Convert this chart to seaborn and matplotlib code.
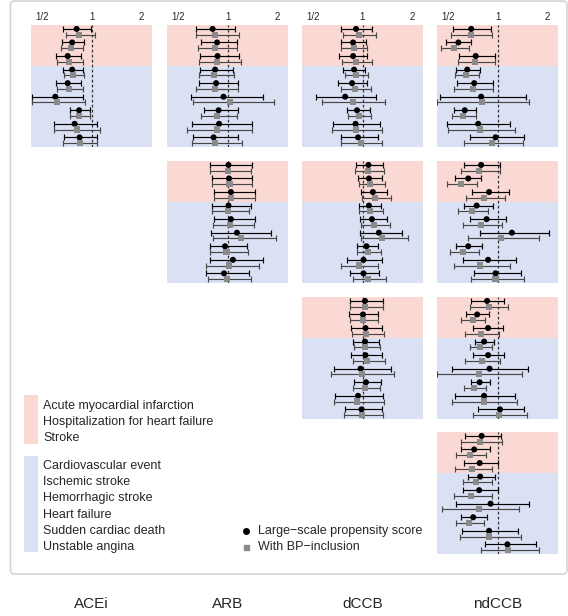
import numpy as np
import pandas as pd
import matplotlib
matplotlib.use('Agg')
import matplotlib.pyplot as plt
import seaborn as sns
from matplotlib.patches import Rectangle, FancyBboxPatch

# Outcomes (top 3 = pink group, last 6 = blue group)
outcomes_pink = ['Acute myocardial infarction', 'Hospitalization for heart failure', 'Stroke']
outcomes_blue = ['Cardiovascular event', 'Ischemic stroke', 'Hemorrhagic stroke',
                 'Heart failure', 'Sudden cardiac death', 'Unstable angina']
drugs = ['ACEi', 'ARB', 'dCCB', 'ndCCB']

# log2 hazard ratio: (estimate, lower, upper) per outcome
# ps = large-scale propensity score, bp = with BP-inclusion
r1_acei_ps = [(-0.30, -0.57, -0.02), (-0.39, -0.60, -0.15), (-0.48, -0.71, -0.22), (-0.39, -0.57, -0.17),
              (-0.48, -0.72, -0.21), (-0.73, -1.20, -0.18), (-0.25, -0.43, -0.03), (-0.34, -0.75, 0.12),
              (-0.24, -0.55, 0.11)]
r1_acei_bp = [(-0.25, -0.51, 0.07), (-0.41, -0.62, -0.17), (-0.45, -0.70, -0.18), (-0.37, -0.55, -0.15),
              (-0.45, -0.70, -0.17), (-0.69, -1.20, -0.13), (-0.25, -0.44, -0.03), (-0.29, -0.75, 0.18),
              (-0.24, -0.57, 0.11)]

r1_arb_ps = [(-0.30, -0.64, 0.15), (-0.21, -0.53, 0.20), (-0.20, -0.55, 0.24), (-0.25, -0.55, 0.12),
             (-0.23, -0.58, 0.21), (-0.08, -0.73, 0.71), (-0.18, -0.48, 0.21), (-0.17, -0.71, 0.49),
             (-0.28, -0.69, 0.21)]
r1_arb_bp = [(-0.26, -0.64, 0.23), (-0.25, -0.59, 0.19), (-0.21, -0.57, 0.27), (-0.27, -0.58, 0.13),
             (-0.25, -0.63, 0.21), (0.05, -0.70, 0.94), (-0.21, -0.53, 0.20), (-0.22, -0.81, 0.49),
             (-0.26, -0.71, 0.29)]

r1_dccb_ps = [(-0.13, -0.43, 0.20), (-0.19, -0.43, 0.07), (-0.19, -0.47, 0.09), (-0.17, -0.39, 0.06),
              (-0.21, -0.49, 0.09), (-0.35, -0.93, 0.27), (-0.11, -0.31, 0.15), (-0.14, -0.60, 0.35),
              (-0.09, -0.44, 0.31)]
r1_dccb_bp = [(-0.08, -0.39, 0.27), (-0.17, -0.43, 0.10), (-0.13, -0.41, 0.20), (-0.13, -0.35, 0.11),
              (-0.15, -0.44, 0.18), (-0.19, -0.81, 0.45), (-0.08, -0.30, 0.17), (-0.13, -0.62, 0.40),
              (-0.03, -0.43, 0.39)]

r1_ndccb_ps = [(-0.53, -0.89, -0.13), (-0.79, -1.03, -0.53), (-0.44, -0.77, -0.06), (-0.61, -0.83, -0.36),
               (-0.47, -0.81, -0.09), (-0.33, -1.16, 0.57), (-0.66, -0.87, -0.43), (-0.39, -1.01, 0.25),
               (-0.04, -0.55, 0.53)]
r1_ndccb_bp = [(-0.53, -0.93, -0.11), (-0.87, -1.13, -0.58), (-0.45, -0.80, -0.05), (-0.63, -0.86, -0.37),
               (-0.49, -0.87, -0.09), (-0.31, -1.21, 0.63), (-0.69, -0.91, -0.44), (-0.35, -1.00, 0.35),
               (-0.11, -0.68, 0.52)]

r2_arb_ps = [(0.02, -0.35, 0.49), (0.03, -0.31, 0.50), (0.07, -0.28, 0.56), (0.02, -0.31, 0.47),
             (0.07, -0.28, 0.56), (0.19, -0.33, 0.87), (-0.05, -0.36, 0.40), (0.11, -0.35, 0.72),
             (-0.07, -0.43, 0.43)]
r2_arb_bp = [(0.01, -0.35, 0.47), (0.04, -0.31, 0.50), (0.07, -0.28, 0.55), (0.01, -0.32, 0.44),
             (0.05, -0.30, 0.54), (0.27, -0.30, 0.97), (-0.02, -0.35, 0.42), (0.03, -0.44, 0.63),
             (-0.01, -0.40, 0.47)]

r2_dccb_ps = [(0.12, -0.13, 0.41), (0.13, -0.09, 0.40), (0.21, -0.03, 0.50), (0.13, -0.07, 0.38),
              (0.19, -0.05, 0.49), (0.33, -0.06, 0.79), (0.08, -0.12, 0.31), (0.02, -0.31, 0.40),
              (0.02, -0.26, 0.34)]
r2_dccb_bp = [(0.11, -0.15, 0.43), (0.16, -0.08, 0.45), (0.25, -0.01, 0.57), (0.15, -0.07, 0.42),
              (0.23, -0.03, 0.55), (0.40, -0.03, 0.91), (0.11, -0.11, 0.37), (-0.08, -0.43, 0.32),
              (0.11, -0.19, 0.47)]

r2_ndccb_ps = [(-0.33, -0.68, 0.06), (-0.59, -0.86, -0.33), (-0.17, -0.51, 0.23), (-0.42, -0.68, -0.10),
               (-0.22, -0.56, 0.18), (0.29, -0.35, 1.03), (-0.59, -0.84, -0.31), (-0.19, -0.70, 0.37),
               (-0.04, -0.48, 0.47)]
r2_ndccb_bp = [(-0.37, -0.73, 0.05), (-0.73, -1.01, -0.41), (-0.27, -0.63, 0.15), (-0.52, -0.80, -0.19),
               (-0.33, -0.70, 0.10), (0.08, -0.60, 0.84), (-0.69, -0.96, -0.38), (-0.35, -0.88, 0.25),
               (-0.04, -0.53, 0.53)]

r3_dccb_ps = [(0.05, -0.25, 0.42), (0.01, -0.27, 0.32), (0.06, -0.23, 0.40), (0.05, -0.20, 0.34),
              (0.06, -0.24, 0.40), (-0.04, -0.58, 0.57), (0.07, -0.18, 0.37), (-0.09, -0.55, 0.42),
              (-0.02, -0.36, 0.39)]
r3_dccb_bp = [(0.05, -0.25, 0.42), (0.01, -0.26, 0.32), (0.08, -0.22, 0.43), (0.05, -0.18, 0.35),
              (0.09, -0.20, 0.45), (-0.01, -0.63, 0.63), (0.05, -0.19, 0.35), (-0.11, -0.58, 0.43),
              (-0.01, -0.37, 0.41)]

r3_ndccb_ps = [(-0.21, -0.53, 0.13), (-0.41, -0.63, -0.18), (-0.19, -0.49, 0.12), (-0.27, -0.45, -0.07),
               (-0.19, -0.49, 0.14), (-0.16, -0.91, 0.61), (-0.36, -0.54, -0.16), (-0.27, -0.86, 0.35),
               (0.05, -0.39, 0.53)]
r3_ndccb_bp = [(-0.18, -0.55, 0.22), (-0.49, -0.74, -0.25), (-0.33, -0.66, 0.03), (-0.35, -0.56, -0.11),
               (-0.31, -0.66, 0.06), (-0.38, -1.21, 0.49), (-0.47, -0.67, -0.23), (-0.28, -0.92, 0.40),
               (0.03, -0.50, 0.59)]

r4_ndccb_ps = [(-0.32, -0.66, 0.08), (-0.47, -0.73, -0.16), (-0.36, -0.68, 0.02), (-0.35, -0.60, -0.05),
               (-0.37, -0.70, 0.01), (-0.14, -0.83, 0.63), (-0.49, -0.73, -0.21), (-0.17, -0.71, 0.42),
               (0.20, -0.26, 0.77)]
r4_ndccb_bp = [(-0.35, -0.73, 0.09), (-0.56, -0.83, -0.23), (-0.52, -0.86, -0.11), (-0.43, -0.70, -0.11),
               (-0.53, -0.88, -0.11), (-0.37, -1.11, 0.43), (-0.57, -0.83, -0.27), (-0.17, -0.75, 0.47),
               (0.21, -0.33, 0.84)]

# (row, column, ps, bp)
panels = [
    (0, 0, r1_acei_ps, r1_acei_bp), (0, 1, r1_arb_ps, r1_arb_bp),
    (0, 2, r1_dccb_ps, r1_dccb_bp), (0, 3, r1_ndccb_ps, r1_ndccb_bp),
    (1, 1, r2_arb_ps, r2_arb_bp), (1, 2, r2_dccb_ps, r2_dccb_bp), (1, 3, r2_ndccb_ps, r2_ndccb_bp),
    (2, 2, r3_dccb_ps, r3_dccb_bp), (2, 3, r3_ndccb_ps, r3_ndccb_bp),
    (3, 3, r4_ndccb_ps, r4_ndccb_bp),
]

PINK = '#fad9d4'
BLUE = '#dbe1f4'
GRAY = '#8a8a8a'

sns.set_style('white')
plt.rcParams['font.family'] = ['Liberation Sans', 'DejaVu Sans']

W, H = 568, 616
fig = plt.figure(figsize=(W / 100, H / 100), dpi=100)

# background axes in pixel units, for frame and legend
bg = fig.add_axes([0, 0, 1, 1], zorder=0)
bg.set_xlim(0, W)
bg.set_ylim(H, 0)
bg.axis('off')
bg.add_patch(FancyBboxPatch((10.5, 1), 556.5, 573, boxstyle='round,pad=0,rounding_size=4',
                            fc='white', ec='#d4d4d4', lw=1.2))

col_left = [31, 167, 302, 437]
row_top = [25, 161, 297, 432]
pw, ph = 121, 122

for r, c, ps, bp in panels:
    ax = fig.add_axes([col_left[c] / W, 1 - (row_top[r] + ph) / H, pw / W, ph / H], zorder=2)
    rows = []
    for i, (e, lo, hi) in enumerate(ps):
        rows.append({'est': e, 'lo': lo, 'hi': hi, 'y': i + 0.29, 'method': 'ps'})
    for i, (e, lo, hi) in enumerate(bp):
        rows.append({'est': e, 'lo': lo, 'hi': hi, 'y': i + 0.71, 'method': 'bp'})
    df = pd.DataFrame(rows)

    ax.axhspan(0, 3, color=PINK, lw=0, zorder=0)
    ax.axhspan(3, 9, color=BLUE, lw=0, zorder=0)
    ax.axvline(0, color='#333333', lw=0.9, ls=(0, (2.2, 1.8)), zorder=1)

    for m, ec in [('ps', 'black'), ('bp', '#474747')]:
        sub = df[df['method'] == m]
        ax.errorbar(sub['est'], sub['y'], xerr=[sub['est'] - sub['lo'], sub['hi'] - sub['est']],
                    fmt='none', ecolor=ec, elinewidth=0.85, capsize=2.0, capthick=0.85, zorder=2)

    sns.scatterplot(data=df, x='est', y='y', hue='method', style='method',
                    palette={'ps': 'black', 'bp': GRAY}, markers={'ps': 'o', 'bp': 's'},
                    s=19, edgecolor='none', legend=False, ax=ax, zorder=3)

    ax.set_xlim(-1.22, 1.22)
    ax.set_ylim(9, 0)
    ax.set_xlabel('')
    ax.set_ylabel('')
    ax.set_yticks([])
    for s in ax.spines.values():
        s.set_visible(False)
    if r == 0:
        ax.xaxis.tick_top()
        ax.set_xticks([-1, 0, 1])
        ax.set_xticklabels(['1/2', '1', '2'], fontsize=7)
        ax.tick_params(axis='x', length=0, pad=2.5)
    else:
        ax.set_xticks([])

# outcome legend
bg.add_patch(Rectangle((24, 395), 14, 49, color=PINK, lw=0))
bg.add_patch(Rectangle((24, 456), 14, 96, color=BLUE, lw=0))
for i, name in enumerate(outcomes_pink):
    bg.text(43, 406 + i * 16.2, name, fontsize=9, va='center', ha='left')
for i, name in enumerate(outcomes_blue):
    bg.text(43, 466 + i * 16.2, name, fontsize=9, va='center', ha='left')

# method legend
bg.plot([246], [531], 'o', color='black', ms=4)
bg.plot([246], [547], 's', color=GRAY, ms=3.6)
bg.text(258, 531, 'Large\u2212scale propensity score', fontsize=9, va='center', ha='left')
bg.text(258, 547, 'With BP\u2212inclusion', fontsize=9, va='center', ha='left')

# column labels
for c, d in enumerate(drugs):
    bg.text(col_left[c] + pw / 2, 604, d, fontsize=11, va='center', ha='center')

fig.savefig('out.png', dpi=100)
